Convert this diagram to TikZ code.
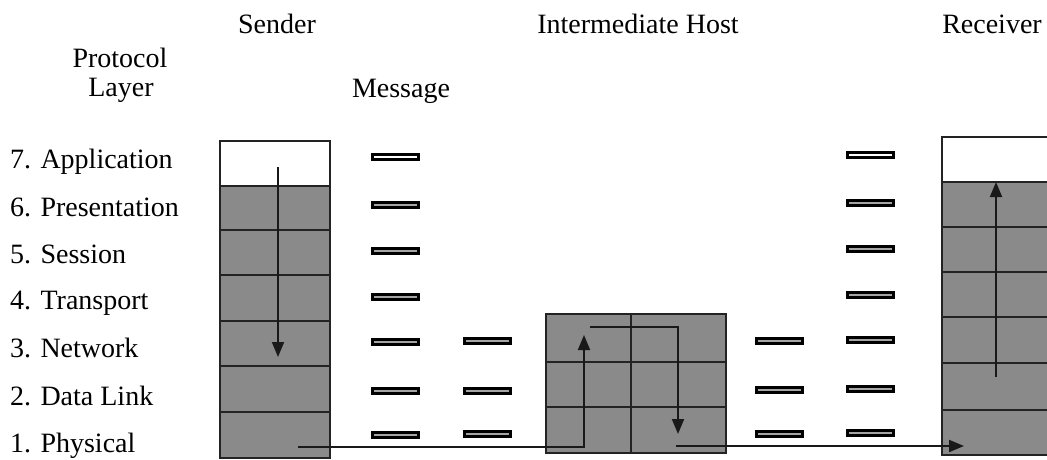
\documentclass[tikz,border=0pt]{standalone}
\usepackage{fontspec}
\setmainfont{Liberation Serif}
\usetikzlibrary{arrows.meta}
\definecolor{stackgray}{RGB}{138,138,138}
\definecolor{edgegray}{RGB}{35,35,35}
\definecolor{msgfill}{RGB}{165,165,165}
\tikzset{
  lbl/.style={font=\fontsize{28}{32}\selectfont, inner sep=0pt, anchor=base},
  lyr/.style={font=\fontsize{28}{32}\selectfont, inner sep=0pt, anchor=base west},
  border/.style={draw=edgegray, line width=2.1pt},
  rowline/.style={draw=edgegray, line width=2.1pt},
  msg/.style={draw=black, line width=3pt, fill=msgfill, minimum width=46pt, minimum height=4.5pt, inner sep=0pt},
  msgw/.style={msg, fill=white},
  flow/.style={draw=black!90, line width=1.9pt, -{Triangle[length=15pt,width=12pt]}}
}
\begin{document}
\begin{tikzpicture}[x=1pt,y=-1pt]
\useasboundingbox (0,0) rectangle (1047,460);
\clip (0,0) rectangle (1047,460);

% titles
\node[lbl] (tsend) at (277,34) {Sender};
\node[lbl] (thost) at (638,34) {Intermediate Host};
\node[lbl] (trecv) at (992,34) {Receiver};
\node[lbl] (tprot) at (120,67) {Protocol};
\node[lbl] (tlayer) at (121,96) {Layer};
\node[lbl] (tmsg) at (401,98) {Message};

% layer labels
\node[lyr] (l7) at (10,168) {7. Application};
\node[lyr] (l6) at (10,216) {6. Presentation};
\node[lyr] (l5) at (10,263) {5. Session};
\node[lyr] (l4) at (10,309) {4. Transport};
\node[lyr] (l3) at (10,357) {3. Network};
\node[lyr] (l2) at (10,405) {2. Data Link};
\node[lyr] (l1) at (10,452) {1. Physical};

% sender stack
\fill[stackgray] (220,186) rectangle (330,458);
\draw[border] (220,141) rectangle (330,458);
\foreach \yy in {186,230,275,321,366,412} \draw[rowline] (220,\yy) -- (330,\yy);

% receiver stack
\fill[stackgray] (942,182) rectangle (1060,455);
\draw[border] (942,137) rectangle (1060,455);
\foreach \yy in {182,227,272,317,363,410} \draw[rowline] (942,\yy) -- (1060,\yy);

% intermediate host
\fill[stackgray] (546,314) rectangle (726,453);
\draw[border] (546,314) rectangle (726,453);
\foreach \yy in {362,407} \draw[rowline] (546,\yy) -- (726,\yy);
\draw[rowline] (631,314) -- (631,453);

% message boxes, column 1
\node[msgw] (m17) at (395.5,157) {};
\node[msg] (m16) at (395.5,205) {};
\node[msg] (m15) at (395.5,251) {};
\node[msg] (m14) at (395.5,297) {};
\node[msg] (m13) at (395.5,342) {};
\node[msg] (m12) at (395.5,391) {};
\node[msg] (m11) at (395.5,435) {};
% column 2
\node[msg] (m23) at (487.5,341) {};
\node[msg] (m22) at (487.5,391) {};
\node[msg] (m21) at (487.5,434) {};
% column 3
\node[msg] (m33) at (779.5,341) {};
\node[msg] (m32) at (779.5,390) {};
\node[msg] (m31) at (779.5,434) {};
% column 4
\node[msgw] (m47) at (870,155) {};
\node[msg] (m46) at (870,203) {};
\node[msg] (m45) at (870,249) {};
\node[msg] (m44) at (870,295) {};
\node[msg] (m43) at (870,340) {};
\node[msg] (m42) at (870,389) {};
\node[msg] (m41) at (870,433) {};

% flow coordinates
\coordinate (sTop) at (278,167);
\coordinate (sBot) at (278,357);
\coordinate (pA) at (298,447);
\coordinate (pB) at (584,447);
\coordinate (pC) at (584,335);
\coordinate (qA) at (590,327);
\coordinate (qB) at (678,327);
\coordinate (qC) at (678,434);
\coordinate (rA) at (676,446);
\coordinate (rB) at (964,446);
\coordinate (uA) at (996,377);
\coordinate (uB) at (996,182);

\draw[flow] (sTop) -- (sBot);
\draw[flow] (pA) -- (pB) -- (pC);
\draw[flow] (qA) -- (qB) -- (qC);
\draw[flow] (rA) -- (rB);
\draw[flow] (uA) -- (uB);
\end{tikzpicture}
\end{document}
